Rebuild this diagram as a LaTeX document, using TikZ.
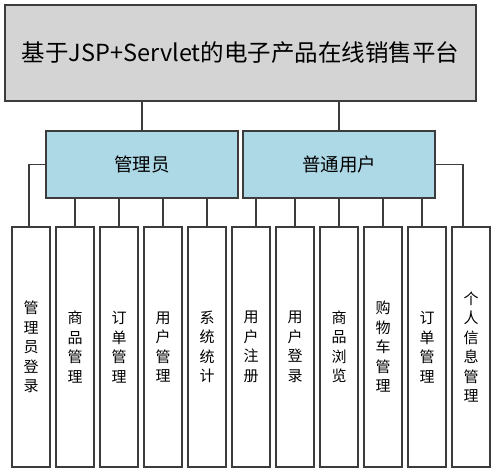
\documentclass[tikz,border=0pt]{standalone}
\usepackage{fontspec}
\setmainfont{Noto Sans CJK SC}
\definecolor{boxline}{HTML}{3C3C3C}
\definecolor{topfill}{HTML}{D4D4D4}
\definecolor{midfill}{HTML}{ADD8E6}
\tikzset{
  box/.style={draw=boxline, line width=1.3pt, inner sep=0pt, align=center},
  topbox/.style={box, fill=topfill, minimum width=471pt, minimum height=96pt, font=\fontsize{23.5}{27}\selectfont},
  midbox/.style={box, fill=midfill, minimum width=192pt, minimum height=67pt, font=\fontsize{18.5}{22}\selectfont},
  leafbox/.style={box, fill=white, minimum width=38pt, minimum height=240pt, font=\fontsize{15}{19.5}\selectfont},
  conn/.style={draw=boxline, line width=1.3pt}
}
\begin{document}
\begin{tikzpicture}[x=1pt,y=-1pt]
\useasboundingbox (0,0) rectangle (496,473);
\node[topbox] (top) at (240.5,53) {基于JSP+Servlet的电子产品在线销售平台};
\node[midbox] (admin) at (142,164.5) {管理员};
\node[midbox] (user) at (339,164.5) {普通用户};
\node[leafbox] (l1) at (31,347) {管\\理\\员\\登\\录};
\node[leafbox] (l2) at (75,347) {商\\品\\管\\理};
\node[leafbox] (l3) at (119,347) {订\\单\\管\\理};
\node[leafbox] (l4) at (163,347) {用\\户\\管\\理};
\node[leafbox] (l5) at (207,347) {系\\统\\统\\计};
\node[leafbox] (l6) at (251,347) {用\\户\\注\\册};
\node[leafbox] (l7) at (295,347) {用\\户\\登\\录};
\node[leafbox] (l8) at (339,347) {商\\品\\浏\\览};
\node[leafbox] (l9) at (383,347) {购\\物\\车\\管\\理};
\node[leafbox] (l10) at (427,347) {订\\单\\管\\理};
\node[leafbox] (l11) at (471,347) {个\\人\\信\\息\\管\\理};
\draw[conn] (admin.north |- top.south) -- (admin.north);
\draw[conn] (user.north |- top.south) -- (user.north);
\coordinate (c1) at ([xshift=-2pt]l1.north);
\draw[conn] (admin.west) -| (c1);
\foreach \i in {2,3,4,5} \draw[conn] (l\i.north |- admin.south) -- (l\i.north);
\coordinate (c6) at ([xshift=5pt]l6.north);
\draw[conn] (c6 |- user.south) -- (c6);
\foreach \i in {7,8,9} \draw[conn] (l\i.north |- user.south) -- (l\i.north);
\coordinate (c10) at ([xshift=-5pt]l10.north);
\draw[conn] (c10 |- user.south) -- (c10);
\coordinate (c11) at ([xshift=-8pt]l11.north);
\draw[conn] (user.east) -| (c11);
\end{tikzpicture}
\end{document}
